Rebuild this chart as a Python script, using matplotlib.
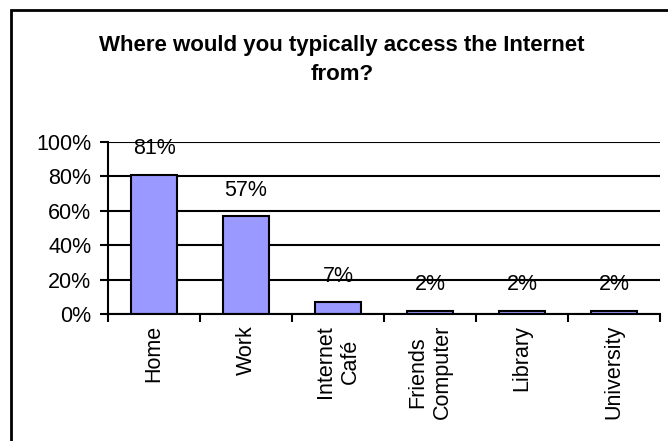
import matplotlib
matplotlib.use("Agg")
import matplotlib.pyplot as plt
from matplotlib.patches import Rectangle
from matplotlib.ticker import FixedLocator, PercentFormatter

plt.rcParams['font.family'] = ['Liberation Sans', 'DejaVu Sans']

categories = ["Home", "Work", "Internet\nCafé", "Friends\nComputer", "Library", "University"]
values = [81, 57, 7, 2, 2, 2]
yticks = [0, 20, 40, 60, 80, 100]
title = "Where would you typically access the Internet\nfrom?"

W, H = 668, 441
fig = plt.figure(figsize=(W / 100, H / 100), dpi=100)
ax = fig.add_axes([108 / W, 1 - 314 / H, (660 - 108) / W, (314 - 142) / H])

x = list(range(len(categories)))
bars = ax.bar(x, values, width=0.5, color="#9999FF", edgecolor="black", linewidth=1.5, zorder=3)

for xi, v in zip(x, values):
    ax.annotate(f"{v}%", (xi, v), xytext=(0, 11), textcoords="offset points",
                ha="center", va="bottom", fontsize=15.5, zorder=4)

ax.set_xlim(-0.5, len(categories) - 0.5)
ax.set_ylim(0, 100)
ax.set_yticks(yticks)
ax.yaxis.set_major_formatter(PercentFormatter(decimals=0))
ax.yaxis.grid(True, color="black", linewidth=1.5, zorder=0)
ax.set_axisbelow(True)

ax.set_xticks(x)
ax.set_xticklabels(categories, rotation=90, ha="center", va="top", multialignment="center", fontsize=15.5)
ax.tick_params(axis="x", which="major", length=0, pad=8)
ax.xaxis.set_minor_locator(FixedLocator([i - 0.5 for i in range(len(categories) + 1)]))
ax.tick_params(axis="x", which="minor", length=6, width=1.5, direction="out", color="black")
ax.tick_params(axis="y", length=6, width=1.5, direction="out", labelsize=15.5, pad=6)

for s in ["top", "right"]:
    ax.spines[s].set_visible(False)
for s in ["left", "bottom"]:
    ax.spines[s].set_linewidth(1.5)
    ax.spines[s].set_zorder(5)

fig.text(342 / W, 1 - 60 / H, title, ha="center", va="center", fontsize=16,
         fontweight="bold", linespacing=1.45)

frame = Rectangle((11 / W, -0.1), 1.2, 1 - 10 / H + 0.1, transform=fig.transFigure,
                  fill=False, edgecolor="black", linewidth=2, clip_on=False)
fig.patches.append(frame)

fig.savefig("out.png", dpi=100)
